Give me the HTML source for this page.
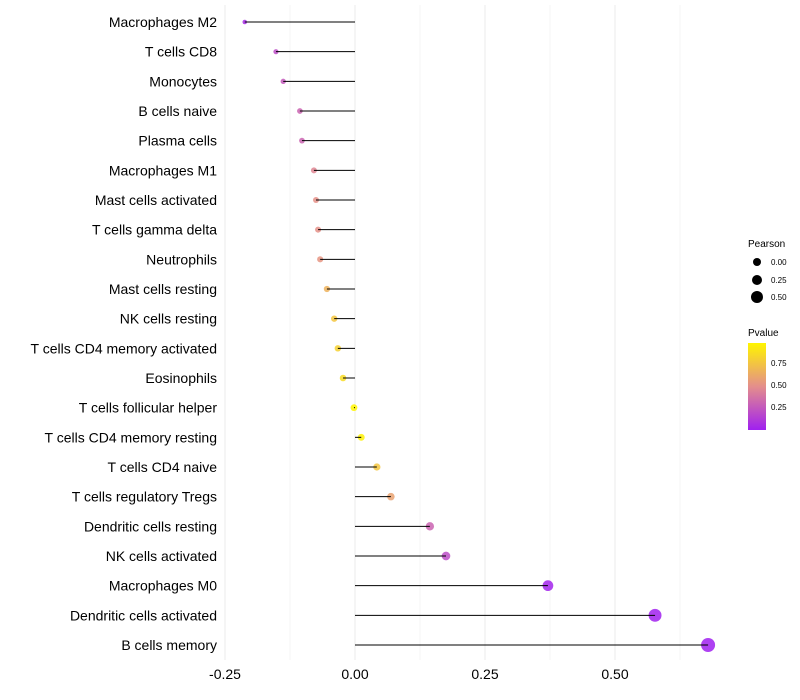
<!DOCTYPE html>
<html><head><meta charset="utf-8"><style>body{margin:0;background:#fff}svg{display:block;font-family:"Liberation Sans",sans-serif}</style></head>
<body>
<svg id="chart" width="800" height="700"></svg>
<script>
const categories=["Macrophages M2","T cells CD8","Monocytes","B cells naive","Plasma cells","Macrophages M1","Mast cells activated","T cells gamma delta","Neutrophils","Mast cells resting","NK cells resting","T cells CD4 memory activated","Eosinophils","T cells follicular helper","T cells CD4 memory resting","T cells CD4 naive","T cells regulatory  Tregs","Dendritic cells resting","NK cells activated","Macrophages M0","Dendritic cells activated","B cells memory"];
const pearson=[-0.212,-0.152,-0.138,-0.106,-0.102,-0.079,-0.075,-0.071,-0.067,-0.054,-0.040,-0.033,-0.023,-0.002,0.012,0.042,0.069,0.144,0.175,0.371,0.577,0.679];
const pvalues=[0.05,0.2,0.25,0.3,0.3,0.45,0.5,0.5,0.52,0.65,0.75,0.8,0.85,0.99,0.95,0.75,0.58,0.3,0.2,0.02,0.005,0.001];
const xTicks=[-0.25,0,0.25,0.5];
const xTickLabels=["-0.25","0.00","0.25","0.50"];
const NS="http://www.w3.org/2000/svg";
const svg=document.getElementById('chart');
const xs=v=>355+v*520;
const ys=i=>22+i*(623/21);
const rs=v=>Math.max(1.6,3.4+5.3*v);
function mix(a,b,t){return a.map((c,i)=>Math.round(c+(b[i]-c)*t));}
function col(p){const t=Math.min(1,Math.max(0,p/0.97));const s0=[160,32,240],s1=[228,142,140],s2=[255,245,0];
 const c=t<0.5?mix(s0,s1,t*2):mix(s1,s2,(t-0.5)*2);return `rgb(${c})`;}
function mk(tag,attrs,parent){const e=document.createElementNS(NS,tag);for(const k in attrs)e.setAttribute(k,attrs[k]);(parent||svg).appendChild(e);return e;}
for(let g=-0.25;g<=0.7;g+=0.125){
 const l=mk('line',{x1:xs(g),x2:xs(g),y1:5,y2:660,stroke:'#ebebeb','stroke-width':Number.isInteger(g/0.25)?1:0.5});
 
 
}
xTicks.forEach((t,i)=>{
 const tx=mk('text',{x:xs(t),y:679,'text-anchor':'middle','font-size':14,fill:'#000'});
 tx.textContent=xTickLabels[i];
 
 
});
categories.forEach((c,i)=>{
 const y=ys(i);
 const lb=mk('text',{x:217,y:y+5,'text-anchor':'end','font-size':14,fill:'#000'});
 lb.textContent=c;
 
 
 const pt=mk('circle',{cx:xs(pearson[i]),cy:y,r:rs(pearson[i]),fill:col(pvalues[i]),'fill-opacity':0.85});
 
 
 const ln=mk('line',{x1:xs(0),x2:xs(pearson[i]),y1:y,y2:y,stroke:'#000','stroke-width':1});
 
 
});
</script>
<svg style="position:absolute;left:0;top:0" width="800" height="700">
 <text x="748" y="247" font-size="10">Pearson</text>
 <circle cx="757" cy="262" r="4" fill="#000"/>
 <circle cx="757" cy="280" r="5" fill="#000"/>
 <circle cx="757" cy="297" r="6" fill="#000"/>
 <text x="771" y="265" font-size="8">0.00</text>
 <text x="771" y="283" font-size="8">0.25</text>
 <text x="771" y="300" font-size="8">0.50</text>
 <text x="748" y="336" font-size="10">Pvalue</text>
 <defs><linearGradient id="pg" x1="0" y1="1" x2="0" y2="0"><stop offset="0" stop-color="#a020f0"/><stop offset="0.5" stop-color="#e48e8c"/><stop offset="1" stop-color="#fff500"/></linearGradient></defs>
 <rect x="748" y="343" width="18" height="87" fill="url(#pg)"/>
 <text x="771" y="366" font-size="8">0.75</text>
 <text x="771" y="388" font-size="8">0.50</text>
 <text x="771" y="410" font-size="8">0.25</text>
</svg>
</body></html>
